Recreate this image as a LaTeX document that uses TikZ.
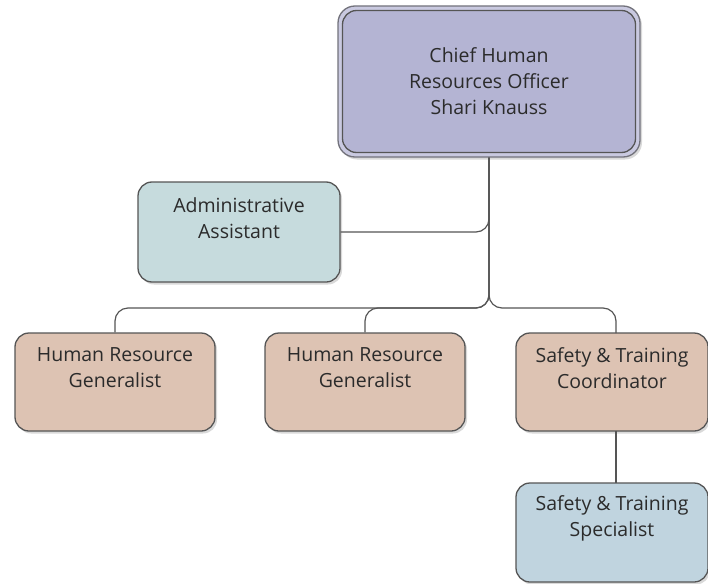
\documentclass[tikz,border=0pt]{standalone}
\usepackage{fontspec}
\setmainfont{Open Sans}
\usetikzlibrary{shadows}
\definecolor{ceofill}{HTML}{B4B4D3}
\definecolor{ceoring}{HTML}{C9C9E0}
\definecolor{adminfill}{HTML}{C6DBDD}
\definecolor{staff}{HTML}{DDC3B3}
\definecolor{specfill}{HTML}{C0D4DF}
\definecolor{edge}{HTML}{555555}
\definecolor{ink}{HTML}{2B2B2B}
\tikzset{
  box/.style={rounded corners=14pt, draw=edge, line width=1.3pt, inner sep=0pt,
    drop shadow={shadow xshift=2pt, shadow yshift=-2.5pt, opacity=0.3}},
  lbl/.style={align=center, text=ink, inner sep=0pt,
    font=\fontsize{19.5}{26}\selectfont},
  conn/.style={draw=edge, line width=1.2pt, rounded corners=13pt}
}
\begin{document}
\begin{tikzpicture}[x=1pt, y=-1pt]
\useasboundingbox (0,0) rectangle (708,583);
% chief officer box with its outer ring
\node[box, rounded corners=17pt, draw=edge!70!ceofill, fill=ceoring, minimum width=302pt, minimum height=151pt] (ceoframe) at (489,81.5) {};
\node[rounded corners=14pt, draw=edge, line width=1.3pt, fill=ceofill, minimum width=293pt, minimum height=142pt, inner sep=0pt] (ceo) at (489,81.5) {};
\node[lbl] (ceotext) at (ceo.center) {Chief Human\\Resources Officer\\Shari Knauss};
% staff boxes
\node[box, fill=adminfill, minimum width=202pt, minimum height=100pt] (admin) at (239,232) {};
\node[box, fill=staff, minimum width=200pt, minimum height=98pt] (hr1) at (115,382) {};
\node[box, fill=staff, minimum width=200pt, minimum height=98pt] (hr2) at (365,382) {};
\node[box, fill=staff, minimum width=192pt, minimum height=98pt] (coord) at (612,382) {};
\node[box, fill=specfill, minimum width=192pt, minimum height=99pt] (spec) at (612,532.5) {};
% labels
\node[lbl] (admintext) at ([yshift=14pt]admin.center) {Administrative\\Assistant};
\node[lbl] (hr1text) at ([yshift=14pt]hr1.center) {Human Resource\\Generalist};
\node[lbl] (hr2text) at ([yshift=14pt]hr2.center) {Human Resource\\Generalist};
\node[lbl] (coordtext) at ([yshift=14pt]coord.center) {Safety \& Training\\Coordinator};
\node[lbl] (spectext) at ([yshift=14pt]spec.center) {Safety \& Training\\Specialist};
% connectors
\coordinate (bus) at (489,308);
\coordinate (coordtop) at (616,333);
\coordinate (specdrop) at (616,431);
\coordinate (spectop) at (616,483);
\draw[conn] (ceoframe.south) -- (bus) -| (hr1.north);
\draw[conn] (ceoframe.south) -- (bus) -| (hr2.north);
\draw[conn] (ceoframe.south) -- (bus) -| (coordtop);
\draw[conn] (admin.east) -| (ceoframe.south);
\draw[conn] (specdrop) -- (spectop);
\end{tikzpicture}
\end{document}
